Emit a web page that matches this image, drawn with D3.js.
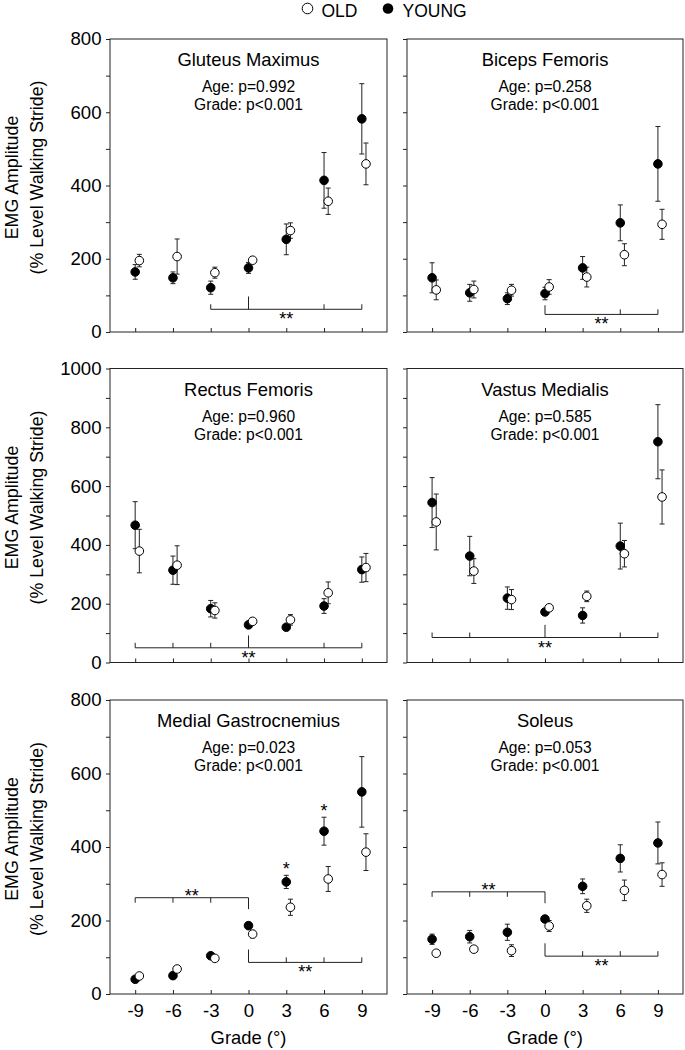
<!DOCTYPE html>
<html>
<head>
<meta charset="utf-8">
<script src="https://cdn.jsdelivr.net/npm/d3@7"></script>
<style>
  html, body { margin: 0; padding: 0; background: #fff; }
  svg { display: block; font-family: "Liberation Sans", Arial, sans-serif; }
</style>
</head>
<body>
<svg id="chart" width="685" height="1050"></svg>
<script>
// ---------------- DATA ----------------
const grades = [-9, -6, -3, 0, 3, 6, 9];
const muscles = ["Gluteus Maximus", "Biceps Femoris", "Rectus Femoris", "Vastus Medialis", "Medial Gastrocnemius", "Soleus"];
const ageP = ["Age: p=0.992", "Age: p=0.258", "Age: p=0.960", "Age: p=0.585", "Age: p=0.023", "Age: p=0.053"];
const gradeP = ["Grade: p<0.001", "Grade: p<0.001", "Grade: p<0.001", "Grade: p<0.001", "Grade: p<0.001", "Grade: p<0.001"];
const yMaxes = [800, 800, 1000, 1000, 800, 800];
const yTickLabels800 = [0, 200, 400, 600, 800];
const yTickLabels1000 = [0, 200, 400, 600, 800, 1000];
const xTickLabels = ["-9", "-6", "-3", "0", "3", "6", "9"];
const seriesNames = ["OLD", "YOUNG"];
const yAxisTitle = ["EMG Amplitude", "(% Level Walking Stride)"];
const xAxisTitle = "Grade (\u00b0)";

// Young (filled) and Old (open) means and SE per muscle
const gluteusYoung    = [164, 148, 121, 175, 253, 414, 582];
const gluteusYoungErr = [20, 16, 18, 15, 42, 76, 96];
const gluteusOld      = [195, 206, 162, 196, 277, 357, 459];
const gluteusOldErr   = [17, 48, 15, 7, 21, 36, 57];

const bicepsYoung     = [148, 107, 91, 105, 175, 298, 459];
const bicepsYoungErr  = [41, 23, 16, 17, 31, 49, 102];
const bicepsOld       = [115, 116, 114, 123, 150, 211, 294];
const bicepsOldErr    = [27, 23, 16, 20, 27, 30, 41];

const rectusYoung     = [467, 314, 183, 128, 120, 192, 316];
const rectusYoungErr  = [80, 48, 28, 5, 6, 25, 43];
const rectusOld       = [379, 331, 177, 140, 145, 237, 323];
const rectusOldErr    = [74, 66, 26, 5, 18, 37, 48];

const vastusYoung     = [544, 362, 219, 172, 160, 396, 751];
const vastusYoungErr  = [85, 67, 38, 8, 26, 78, 126];
const vastusOld       = [478, 311, 214, 186, 225, 370, 563];
const vastusOldErr    = [95, 42, 34, 5, 18, 45, 92];

const gastrocYoung    = [40, 50, 104, 186, 305, 443, 550];
const gastrocYoungErr = [3, 3, 5, 6, 18, 38, 96];
const gastrocOld      = [49, 68, 97, 163, 236, 313, 386];
const gastrocOldErr   = [3, 3, 5, 10, 22, 34, 50];

const soleusYoung     = [149, 156, 168, 204, 293, 369, 411];
const soleusYoungErr  = [14, 17, 22, 5, 20, 37, 57];
const soleusOld       = [111, 122, 118, 185, 240, 282, 325];
const soleusOldErr    = [5, 6, 16, 15, 18, 28, 32];

const youngMeans = [gluteusYoung, bicepsYoung, rectusYoung, vastusYoung, gastrocYoung, soleusYoung];
const youngErrs  = [gluteusYoungErr, bicepsYoungErr, rectusYoungErr, vastusYoungErr, gastrocYoungErr, soleusYoungErr];
const oldMeans   = [gluteusOld, bicepsOld, rectusOld, vastusOld, gastrocOld, soleusOld];
const oldErrs    = [gluteusOldErr, bicepsOldErr, rectusOldErr, vastusOldErr, gastrocOldErr, soleusOldErr];

// Significance brackets
const bracketPanel  = [0, 1, 2, 3, 4, 4, 5, 5];
const bracketFrom   = [-3, 0, -9, -9, -9, 0, -9, 0];
const bracketTo     = [9, 9, 9, 9, 0, 9, 0, 9];
const bracketLevel  = [62, 48, 50, 85, 262, 86, 278, 103];
const bracketTallAt = [0, 0, 0, 0, 0, 0, 0, 0];
const bracketTallTo = [97, 73, 92, 128, 231, 121, 247, 138];
const bracketTicks  = [[-3, 6, 9], [6, 9], [-9, -6, -3, 6, 9], [-9, -6, 6, 9], [-9, -6, -3], [3, 6, 9], [-9, -6, -3], [3, 6, 9]];
const bracketStarX  = [3, 4.5, 0, 0, -4.5, 4.5, -4.5, 4.5];
const bracketStarPos = ["below", "below", "below", "below", "above", "below", "above", "below"];
const bracketLabel  = "**";

// Single-star age differences (Medial Gastrocnemius)
const starPanel = [4, 4];
const starGrade = [3, 6];
const starValue = [351, 509];

// ---------------- LAYOUT ----------------
const svg = d3.select("#chart");
const colX = [[110, 387], [407, 683]];
const rowY = [[39, 332], [368.5, 662.5], [700, 994]];
const oldOffset = 0.33;
const r = 4.3;
const ink = "#222";

const scales = muscles.map((m, i) => {
  const col = i % 2, row = Math.floor(i / 2);
  const x = d3.scaleLinear().domain([-11, 11]).range(colX[col]);
  const y = d3.scaleLinear().domain([0, yMaxes[i]]).range([rowY[row][1], rowY[row][0]]);
  return { x, y, col, row };
});

muscles.forEach((name, i) => {
  const { x, y, col, row } = scales[i];
  const g = svg.append("g");
  const [x0, x1] = x.range();
  const [yb, yt] = y.range();

  const yAxis = d3.axisLeft(y)
    .tickValues(d3.range(0, yMaxes[i] + 1, 100))
    .tickSize(4)
    .tickFormat(d => (col === 0 && (yMaxes[i] === 800 ? yTickLabels800 : yTickLabels1000).includes(d)) ? d : "");
  const ya = g.append("g").attr("transform", `translate(${x0},0)`).call(yAxis);
  ya.select(".domain").remove();
  ya.selectAll(".tick line").attr("stroke", ink);
  ya.selectAll(".tick text").attr("font-size", 18.6).attr("fill", "#000")
    .attr("font-family", "Liberation Sans, Arial, sans-serif").attr("x", -8.5);

  const xAxis = d3.axisBottom(x).tickValues(grades).tickSize(-4)
    .tickFormat((d, k) => row === 2 ? xTickLabels[k] : "");
  const xa = g.append("g").attr("transform", `translate(0,${yb})`).call(xAxis);
  xa.select(".domain").remove();
  xa.selectAll(".tick line").attr("stroke", ink);
  xa.selectAll(".tick text").attr("font-size", 18.6).attr("fill", "#000")
    .attr("font-family", "Liberation Sans, Arial, sans-serif").attr("y", 10).attr("dy", "0.71em");

  g.append("rect").attr("x", x0).attr("y", yt).attr("width", x1 - x0).attr("height", yb - yt)
    .attr("fill", "none").attr("stroke", ink).attr("stroke-width", 1);

  const cx = (x0 + x1) / 2;
  g.append("text").attr("x", cx).attr("y", yt + 27).attr("text-anchor", "middle")
    .attr("font-size", 18.4).text(name);
  g.append("text").attr("x", cx).attr("y", yt + 53).attr("text-anchor", "middle")
    .attr("font-size", 15.6).text(ageP[i]);
  g.append("text").attr("x", cx).attr("y", yt + 71).attr("text-anchor", "middle")
    .attr("font-size", 15.6).text(gradeP[i]);

  if (col === 0) {
    const cy = (yt + yb) / 2 - 8;
    g.append("text").attr("transform", `translate(18.3,${cy}) rotate(-90)`)
      .attr("text-anchor", "middle").attr("font-size", 17.8).text(yAxisTitle[0]);
    g.append("text").attr("transform", `translate(43.3,${cy}) rotate(-90)`)
      .attr("text-anchor", "middle").attr("font-size", 17.8).text(yAxisTitle[1]);
  }
  if (row === 2) {
    g.append("text").attr("x", cx).attr("y", 1044).attr("text-anchor", "middle")
      .attr("font-size", 18.4).text(xAxisTitle);
  }

  bracketPanel.forEach((p, b) => {
    if (p !== i) return;
    const ly = y(bracketLevel[b]);
    const dir = bracketTallTo[b] > bracketLevel[b] ? -1 : 1;
    const bg = g.append("g").attr("stroke", ink).attr("stroke-width", 1).attr("fill", "none");
    bg.append("line").attr("x1", x(bracketFrom[b])).attr("x2", x(bracketTo[b])).attr("y1", ly).attr("y2", ly);
    bracketTicks[b].forEach(t => {
      bg.append("line").attr("x1", x(t)).attr("x2", x(t)).attr("y1", ly).attr("y2", ly + dir * 5);
    });
    bg.append("line").attr("x1", x(bracketTallAt[b])).attr("x2", x(bracketTallAt[b]))
      .attr("y1", ly).attr("y2", y(bracketTallTo[b]));
    const sy = bracketStarPos[b] === "below" ? ly + 16 : ly + 4;
    g.append("text").attr("x", x(bracketStarX[b])).attr("y", sy).attr("text-anchor", "middle")
      .attr("font-size", 18).text(bracketLabel);
  });

  starPanel.forEach((p, s) => {
    if (p !== i) return;
    g.append("text").attr("x", x(starGrade[s])).attr("y", y(starValue[s]) + 10.3)
      .attr("text-anchor", "middle").attr("font-size", 18).text("*");
  });

  const series = [
    { mean: youngMeans[i], err: youngErrs[i], off: 0, fill: "#000" },
    { mean: oldMeans[i], err: oldErrs[i], off: oldOffset, fill: "#fff" }
  ];
  series.forEach(s => {
    const eg = g.append("g").attr("stroke", ink).attr("stroke-width", 1);
    grades.forEach((gr, k) => {
      const px = x(gr + s.off);
      const top = y(s.mean[k] + s.err[k]), bot = y(s.mean[k] - s.err[k]);
      eg.append("line").attr("x1", px).attr("x2", px).attr("y1", top).attr("y2", bot);
      eg.append("line").attr("x1", px - 2.5).attr("x2", px + 2.5).attr("y1", top).attr("y2", top);
      eg.append("line").attr("x1", px - 2.5).attr("x2", px + 2.5).attr("y1", bot).attr("y2", bot);
    });
  });
  series.forEach(s => {
    g.append("g").selectAll("circle").data(grades).join("circle")
      .attr("cx", (gr) => x(gr + s.off))
      .attr("cy", (gr, k) => y(s.mean[k]))
      .attr("r", r)
      .attr("fill", s.fill)
      .attr("stroke", "#000").attr("stroke-width", 1);
  });
});

const lg = svg.append("g");
lg.append("circle").attr("cx", 307.5).attr("cy", 8.5).attr("r", 5.3).attr("fill", "#fff").attr("stroke", "#000").attr("stroke-width", 1);
lg.append("text").attr("x", 321.5).attr("y", 16.5).attr("font-size", 17.5).text(seriesNames[0]);
lg.append("circle").attr("cx", 388).attr("cy", 8.5).attr("r", 5.3).attr("fill", "#000");
lg.append("text").attr("x", 402.5).attr("y", 16.5).attr("font-size", 17.5).text(seriesNames[1]);
</script>
</body>
</html>
